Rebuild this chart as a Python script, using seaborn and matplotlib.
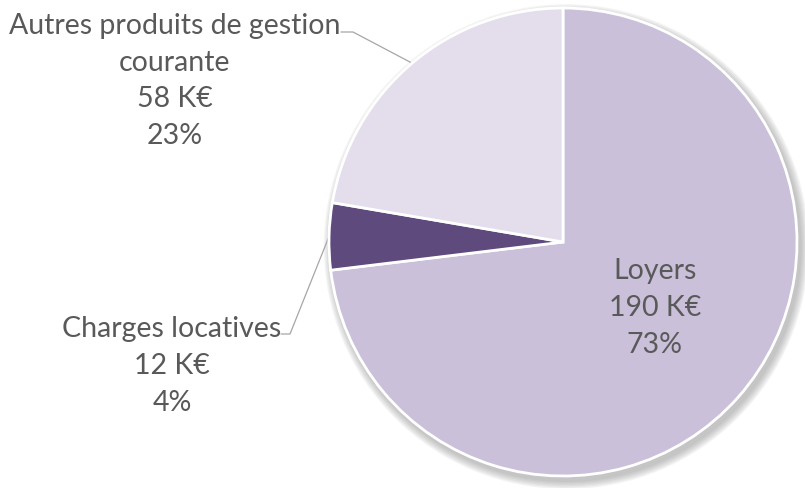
import matplotlib
matplotlib.use("Agg")
import matplotlib.pyplot as plt
import seaborn as sns
import numpy as np
from matplotlib.patches import Circle

sns.set_theme(style="white")
plt.rcParams['font.family'] = ['Lato', 'DejaVu Sans']

# Data
categories = ["Loyers", "Charges locatives", "Autres produits de gestion\ncourante"]
values_keur = [190, 12, 58]
pct_labels = ["73%", "4%", "23%"]
colors = ["#CAC0DA", "#5E4A7D", "#E4DEEC"]

text_color = "#595959"

# pixel layout helpers (pie centre and radius in pixels)
W, H = 805, 489
CX, CY, R = 563, 243, 234


def px(x, y):
    return (x - CX) / R, (CY - y) / R


fig = plt.figure(figsize=(W / 100, H / 100), dpi=100)
ax = fig.add_axes([0, 0, 1, 1])
ax.set_aspect("equal")
ax.axis("off")

# soft shadow behind the pie
for i in range(6):
    ax.add_patch(Circle((0.014, -0.02), 1.0 + 0.006 * (6 - i), color="#707070",
                        alpha=0.08, lw=0, zorder=0))

wedges, _ = ax.pie(values_keur, colors=colors, startangle=90, counterclock=False,
                   radius=1.0, wedgeprops=dict(edgecolor="white", linewidth=2),
                   center=(0, 0), frame=False)
for w in wedges:
    w.set_zorder(2)
ax.set_xlim(-CX / R, (W - CX) / R)
ax.set_ylim(-(H - CY) / R, CY / R)

fs = 20.5
ls = 1.52

# Loyers label inside
x, y = px(655, 308)
ax.text(x, y, f"{categories[0]}\n{values_keur[0]} K€\n{pct_labels[0]}", ha="center",
        va="center", fontsize=fs, color=text_color, linespacing=ls, zorder=3)

# Charges locatives label
x, y = px(172, 366)
ax.text(x, y, f"{categories[1]}\n{values_keur[1]} K€\n{pct_labels[1]}", ha="center",
        va="center", fontsize=fs, color=text_color, linespacing=ls, zorder=3)

# Autres label
x, y = px(175, 81)
ax.text(x, y, f"{categories[2]}\n{values_keur[2]} K€\n{pct_labels[2]}", ha="center",
        va="center", fontsize=fs, color=text_color, linespacing=ls, zorder=3)

# leader lines to wedge mid-angles
def mid_point(w):
    a = np.deg2rad((w.theta1 + w.theta2) / 2)
    return np.cos(a), np.sin(a)

ex, ey = mid_point(wedges[2])
x0, y0 = px(341, 33)
x1, y1 = px(353, 33)
ax.plot([x0, x1, ex], [y0, y1, ey], color="#A6A6A6", lw=0.9, zorder=1)

ex, ey = mid_point(wedges[1])
x0, y0 = px(281, 335)
x1, y1 = px(290, 335)
ax.plot([x0, x1, ex], [y0, y1, ey], color="#A6A6A6", lw=0.9, zorder=1)

fig.savefig("out.png", dpi=100)
